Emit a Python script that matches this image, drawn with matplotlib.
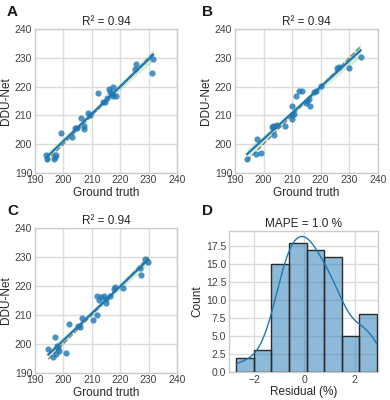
import numpy as np
import matplotlib
matplotlib.use("Agg")
import matplotlib.pyplot as plt

plt.rcParams['font.family'] = ['Liberation Sans', 'DejaVu Sans']

# ---------------- data ----------------
gt_A = [193.9, 194.1, 196.7, 197.1, 197.4, 199.1, 202.9, 204.1, 204.9, 206.2,
        207.3, 207.3, 208.5, 209.4, 212.1, 214.1, 214.8, 215.5, 216.2, 217.1,
        217.4, 217.6, 218.6, 216.5, 225.1, 225.4, 231.2, 231.6]
pred_A = [196.3, 194.7, 194.7, 195.6, 196.3, 203.7, 202.4, 205.7, 205.7, 209.1,
          206.3, 205.2, 210.7, 210.1, 217.7, 214.7, 214.7, 215.9, 219.1, 217.4,
          219.8, 216.7, 216.7, 218.2, 226.2, 227.9, 224.7, 229.7]

gt_B = [194.2, 197.4, 199.0, 197.8, 203.0, 203.2, 204.0, 204.7, 203.7, 207.5,
        209.9, 210.1, 210.8, 209.9, 211.4, 212.4, 213.6, 215.4, 216.0, 216.3,
        214.8, 217.8, 218.4, 220.1, 225.6, 226.3, 230.1, 234.0]
pred_B = [194.9, 196.5, 197.0, 201.6, 205.9, 206.4, 206.4, 206.7, 203.3, 206.2,
          208.7, 210.0, 210.5, 213.4, 216.7, 218.5, 218.5, 214.9, 215.6, 213.4,
          214.3, 218.1, 218.5, 220.2, 226.5, 226.7, 226.5, 230.2]

gt_C = [194.7, 196.9, 196.5, 197.4, 197.9, 198.5, 198.2, 200.9, 202.0, 205.3,
        206.0, 206.6, 210.4, 211.8, 212.0, 212.7, 213.3, 214.4, 215.1, 215.1,
        216.5, 217.9, 218.0, 220.9, 226.8, 227.4, 228.9, 229.9]
pred_C = [198.2, 202.5, 195.5, 196.5, 199.4, 197.6, 198.6, 196.9, 206.7, 206.2,
          205.9, 208.8, 208.2, 210.0, 216.7, 215.2, 216.3, 216.6, 215.4, 214.0,
          216.6, 218.9, 219.6, 219.2, 226.1, 223.8, 229.3, 228.2]

residuals = [-2.71, -2.30,
             -1.80, -1.55, -1.38,
             -1.25, -1.12, -1.03, -0.97, -0.92, -0.88, -0.84, -0.80, -0.77, -0.74,
             -0.71, -0.69, -0.67, -0.65, -0.63,
             -0.59, -0.55, -0.51, -0.47, -0.43, -0.39, -0.35, -0.31, -0.27, -0.23,
             -0.19, -0.15, -0.11, -0.07, -0.03, 0.01, 0.04, 0.07,
             0.10, 0.12, 0.15, 0.18, 0.21, 0.24, 0.27, 0.30, 0.33, 0.36, 0.40,
             0.44, 0.48, 0.53, 0.58, 0.64, 0.72,
             0.81, 0.84, 0.88, 0.92, 0.96, 1.00, 1.04, 1.08, 1.12, 1.17, 1.22,
             1.27, 1.32, 1.37, 1.42, 1.47,
             1.58, 1.75, 1.90, 2.04, 2.15,
             2.22, 2.30, 2.40, 2.52, 2.61, 2.70, 2.80, 2.89]

titles = ["R\u00b2 = 0.94", "R\u00b2 = 0.94", "R\u00b2 = 0.94"]
letters = ["A", "B", "C", "D"]
ticks = [190, 200, 210, 220, 230, 240]
hist_title = "MAPE = 1.0 %"

# ---------------- style ----------------
W, H = 390, 400
fig = plt.figure(figsize=(W / 100, H / 100), dpi=100)

grid_c = '#dcdcdc'
text_c = '#262626'
tick_c = '#404040'
blue = '#1f77b4'


def style_axes(ax):
    ax.set_facecolor('white')
    for s in ax.spines.values():
        s.set_color('#cccccc')
        s.set_linewidth(1.0)
    ax.grid(True, color=grid_c, linewidth=1.0)
    ax.set_axisbelow(True)
    ax.tick_params(length=0, labelsize=7.5, labelcolor=tick_c, pad=2)


def box(l, t, r, b):
    return [l / W, 1 - b / H, (r - l) / W, (b - t) / H]


def scatter_panel(ax, x, y, title):
    x = np.asarray(x)
    y = np.asarray(y)
    style_axes(ax)
    n = len(x)
    slope, inter = np.polyfit(x, y, 1)
    xs = np.linspace(x.min(), x.max(), 100)
    ys = slope * xs + inter
    res = y - (slope * x + inter)
    s = np.sqrt(np.sum(res ** 2) / (n - 2))
    sxx = np.sum((x - x.mean()) ** 2)
    se = s * np.sqrt(1 / n + (xs - x.mean()) ** 2 / sxx)
    t = 2.056
    ax.plot(xs, xs, ls='--', color='#808080', lw=1.0, zorder=1)
    ax.fill_between(xs, ys - t * se, ys + t * se, color='#2ca02c', alpha=0.18,
                    lw=0, zorder=2)
    ax.scatter(x, y, s=20, color=blue, alpha=0.8, lw=0, zorder=3)
    ax.plot(xs, ys, color=blue, lw=1.6, zorder=4)
    ax.set_xlim(190, 240)
    ax.set_ylim(190, 240)
    ax.set_xticks(ticks)
    ax.set_yticks(ticks)
    ax.set_xlabel("Ground truth", fontsize=8.5, color=text_c, labelpad=1)
    ax.set_ylabel("DDU-Net", fontsize=8.5, color=text_c, labelpad=2)
    ax.set_title(title, fontsize=8.5, color=text_c, pad=3)


axA = fig.add_axes(box(35, 29.3, 177, 172.7))
axB = fig.add_axes(box(235, 29.3, 377.7, 172.7))
axC = fig.add_axes(box(35, 228.3, 177, 372.7))
axD = fig.add_axes(box(229, 231, 378, 372))

scatter_panel(axA, gt_A, pred_A, titles[0])
scatter_panel(axB, gt_B, pred_B, titles[1])
scatter_panel(axC, gt_C, pred_C, titles[2])

# ---------------- histogram ----------------
style_axes(axD)
r = np.asarray(residuals)
counts, edges = np.histogram(r, bins=8)
axD.bar(edges[:-1], counts, width=np.diff(edges), align='edge',
        color=blue, alpha=0.5, edgecolor='none', zorder=2)
axD.bar(edges[:-1], counts, width=np.diff(edges), align='edge',
        facecolor='none', edgecolor='#2a2a2a', lw=1.0, zorder=3)
n = len(r)
bw = n ** (-1 / 5) * r.std(ddof=1)
xg = np.linspace(r.min(), r.max(), 200)
dens = np.exp(-0.5 * ((xg[:, None] - r[None, :]) / bw) ** 2).sum(1) / (n * bw * np.sqrt(2 * np.pi))
axD.plot(xg, dens * n * (edges[1] - edges[0]), color=blue, lw=1.0, zorder=4)
axD.set_xlim(-3.0, 2.93)
axD.set_ylim(0, 19.6)
axD.set_xticks([-2, 0, 2])
axD.set_yticks(np.arange(0, 18, 2.5))
axD.set_yticklabels([f"{v:.1f}" for v in np.arange(0, 18, 2.5)])
axD.set_xlabel("Residual (%)", fontsize=8.5, color=text_c, labelpad=1)
axD.set_ylabel("Count", fontsize=8.5, color=text_c, labelpad=2)
axD.set_title(hist_title, fontsize=8.5, color=text_c, pad=3)

# panel letters
for lab, (px, py) in zip(letters, [(7, 16), (202, 16), (7, 215), (202, 215)]):
    fig.text(px / W, 1 - py / H, lab, fontsize=11, fontweight='bold', color='#1a1a1a')

fig.savefig("out.png", dpi=100)
